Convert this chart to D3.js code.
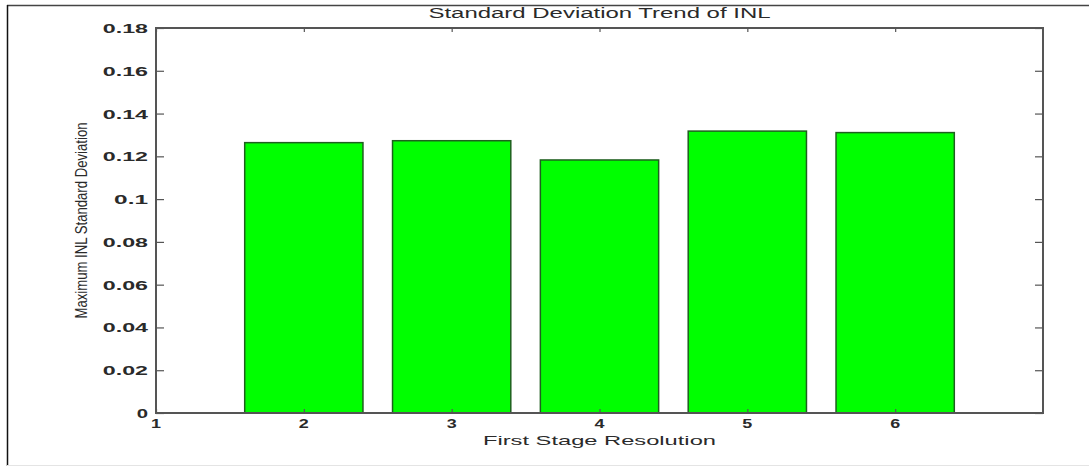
<!DOCTYPE html>
<html>
<head>
<meta charset="utf-8">
<script src="https://cdn.jsdelivr.net/npm/d3@7"></script>
<style>
  body { margin: 0; background: #fff; }
  text { font-family: "Liberation Sans", Arial, sans-serif; fill: #2a2a2a; }
</style>
</head>
<body>
<svg width="1089" height="466"></svg>
<script>
  // data
  const resolutions = [1, 2, 3, 4, 5, 6];
  const stdDev = [0, 0.1264, 0.1273, 0.1183, 0.1318, 0.1311];
  const yTicks = [0, 0.02, 0.04, 0.06, 0.08, 0.1, 0.12, 0.14, 0.16, 0.18];
  const xTicks = [1, 2, 3, 4, 5, 6];

  const svg = d3.select('svg');

  // outer frame
  svg.append('line').attr('x1', 7).attr('x2', 1089).attr('y1', 5.5).attr('y2', 5.5)
    .attr('stroke', '#444').attr('stroke-width', 1.5);
  svg.append('line').attr('x1', 7.5).attr('x2', 7.5).attr('y1', 5).attr('y2', 466)
    .attr('stroke', '#111').attr('stroke-width', 1.5);
  svg.append('line').attr('x1', 7).attr('x2', 1089).attr('y1', 465.5).attr('y2', 465.5)
    .attr('stroke', '#e4e4e4').attr('stroke-width', 1);

  const pLeft = 156, pRight = 1043, pTop = 28, pBottom = 413;

  const x = d3.scaleLinear().domain([1, 7]).range([pLeft, pRight]);
  const y = d3.scaleLinear().domain([0, 0.18]).range([pBottom, pTop]);
  const barW = x(1.8) - x(1);

  svg.append('clipPath').attr('id', 'plot')
    .append('rect').attr('x', pLeft).attr('y', pTop - 2)
    .attr('width', pRight - pLeft).attr('height', pBottom - pTop + 4);

  svg.append('g').attr('clip-path', 'url(#plot)')
    .selectAll('rect')
    .data(resolutions)
    .enter().append('rect')
      .attr('x', (d) => x(d) - barW / 2)
      .attr('width', barW)
      .attr('y', (d, i) => y(stdDev[i]))
      .attr('height', (d, i) => Math.max(pBottom - y(stdDev[i]), 0.01))
      .attr('fill', '#00ff00')
      .attr('stroke', '#1f5f1f')
      .attr('stroke-width', 1.5);

  // axes, matlab style: ticks inside on every side
  const axisColor = '#555';
  const yLeft = svg.append('g').attr('transform', `translate(${pLeft},0)`)
    .call(d3.axisRight(y).tickValues(yTicks).tickSize(8).tickFormat(''));
  const yRight = svg.append('g').attr('transform', `translate(${pRight},0)`)
    .call(d3.axisLeft(y).tickValues(yTicks).tickSize(8).tickFormat(''));
  const xTop = svg.append('g').attr('transform', `translate(0,${pTop})`)
    .call(d3.axisBottom(x).tickValues(xTicks).tickSize(4).tickFormat(''));
  const xBottom = svg.append('g').attr('transform', `translate(0,${pBottom})`)
    .call(d3.axisTop(x).tickValues(xTicks).tickSize(4).tickFormat(''));

  [yLeft, yRight, xTop, xBottom].forEach((g) => {
    g.select('.domain').remove();
    g.selectAll('line').attr('stroke', axisColor).attr('stroke-width', 1.2);
  });

  svg.append('rect')
    .attr('x', pLeft).attr('y', pTop)
    .attr('width', pRight - pLeft).attr('height', pBottom - pTop)
    .attr('fill', 'none').attr('stroke', axisColor).attr('stroke-width', 2);

  // tick labels
  svg.append('g').selectAll('text')
    .data(yTicks)
    .enter().append('text')
      .attr('x', pLeft - 8)
      .attr('y', (d) => y(d) + 5)
      .attr('text-anchor', 'end')
      .attr('font-size', 13)
      .attr('font-weight', 'bold')
      .attr('textLength', (d) => String(d).length * 11.3)
      .attr('lengthAdjust', 'spacingAndGlyphs')
      .attr('fill', '#555')
      .text((d) => String(d));

  svg.append('g').selectAll('text')
    .data(xTicks)
    .enter().append('text')
      .attr('x', (d) => x(d))
      .attr('y', pBottom + 15)
      .attr('text-anchor', 'middle')
      .attr('font-size', 12)
      .attr('font-weight', 'bold')
      .attr('textLength', 10)
      .attr('lengthAdjust', 'spacingAndGlyphs')
      .attr('fill', '#555')
      .text((d) => d);

  // titles
  svg.append('text')
    .attr('x', (pLeft + pRight) / 2).attr('y', 18)
    .attr('text-anchor', 'middle')
    .attr('font-size', 14)
    .attr('textLength', 342)
    .attr('lengthAdjust', 'spacingAndGlyphs')
    .attr('fill', '#444')
    .text('Standard Deviation Trend of INL');

  svg.append('text')
    .attr('x', (pLeft + pRight) / 2).attr('y', 445)
    .attr('text-anchor', 'middle')
    .attr('font-size', 13)
    .attr('textLength', 233)
    .attr('lengthAdjust', 'spacingAndGlyphs')
    .attr('fill', '#444')
    .text('First Stage Resolution');

  svg.append('text')
    .attr('transform', `translate(87,${(pTop + pBottom) / 2}) rotate(-90)`)
    .attr('text-anchor', 'middle')
    .attr('font-size', 17)
    .attr('textLength', 196)
    .attr('lengthAdjust', 'spacingAndGlyphs')
    .attr('fill', '#333')
    .text('Maximum INL Standard Deviation');
</script>
</body>
</html>
